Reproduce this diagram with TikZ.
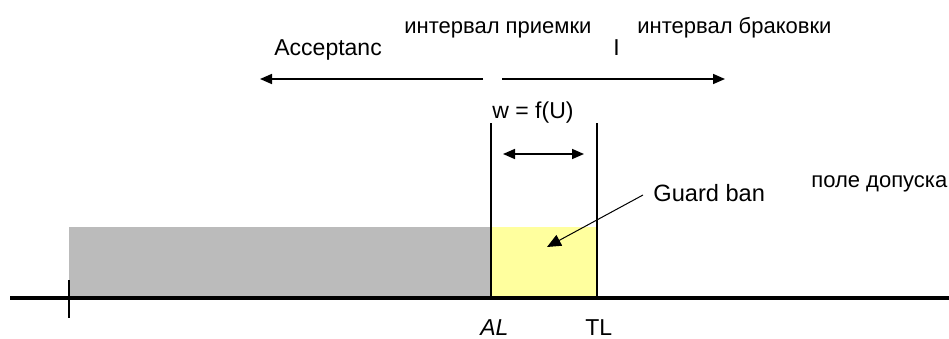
\documentclass[tikz,border=0pt]{standalone}
\usepackage{fontspec}
\setmainfont{Liberation Sans}
\usepackage{xcolor}
\usetikzlibrary{arrows.meta, positioning}

\definecolor{zonegray}{HTML}{BBBBBB}
\definecolor{guardyellow}{HTML}{FFFF9E}

\begin{document}
\begin{tikzpicture}[x=0.5pt, y=-0.5pt, font=\fontsize{11}{13}\selectfont,
    lbl/.style={inner sep=0pt, anchor=base west},
    tip/.style={line width=0.8pt, -{Triangle[length=6pt, width=5pt]}}]
        \useasboundingbox (0,0) rectangle (949,338);

        % Zones
        \fill[zonegray] (69,227) rectangle (491,298);
        \fill[guardyellow] (491,227) rectangle (597,298);

        % Axis, tick and limit lines
        \coordinate (ax0) at (10,298);
        \coordinate (ax1) at (949,298);
        \coordinate (al) at (491,298);
        \coordinate (tl) at (597,298);
        \draw[line width=1.8pt] (ax0) -- (ax1);
        \draw[line width=1.2pt] (69,280) -- (69,318);
        \draw[line width=1.2pt] (al) -- ++(0,-175);
        \draw[line width=1.2pt] (tl) -- ++(0,-175);

        % Labels
        \node[lbl] (priem) at (404,33) {интервал приемки};
        \node[lbl] (brak) at (637,33) {интервал браковки};
        \node[lbl, font=\fontsize{11.5}{13}\selectfont] (acc) at (274,55) {Acceptanc};
        \node[lbl, font=\fontsize{11.5}{13}\selectfont] (rej) at (613,55) {I};
        \node[lbl, font=\fontsize{11.5}{13}\selectfont] (w) at (492,118) {w = f(U)};
        \node[lbl] (tol) at (811,187) {поле допуска};
        \node[lbl, font=\fontsize{11.8}{13}\selectfont] (guard) at (653,201) {Guard ban};
        \node[lbl, font=\fontsize{11.5}{13}\selectfont\itshape] (alab) at (480,335) {AL};
        \node[lbl, font=\fontsize{11.5}{13}\selectfont] (tlab) at (585,335) {TL};

        % Arrows
        \coordinate (accs) at (483,79);
        \coordinate (acce) at (260,79);
        \coordinate (rejs) at (502,79);
        \coordinate (reje) at (725,79);
        \coordinate (wl) at (503,154);
        \coordinate (wr) at (584,154);
        \coordinate (gs) at (643,195);
        \coordinate (ge) at (547,247);
        \draw[tip] (accs) -- (acce);
        \draw[tip] (rejs) -- (reje);
        \draw[tip, {Triangle[length=6pt, width=5pt]}-{Triangle[length=6pt, width=5pt]}] (wl) -- (wr);
        \draw[tip, line width=0.5pt, -{Triangle[length=7pt, width=6pt]}] (gs) -- (ge);
    \end{tikzpicture}
\end{document}
